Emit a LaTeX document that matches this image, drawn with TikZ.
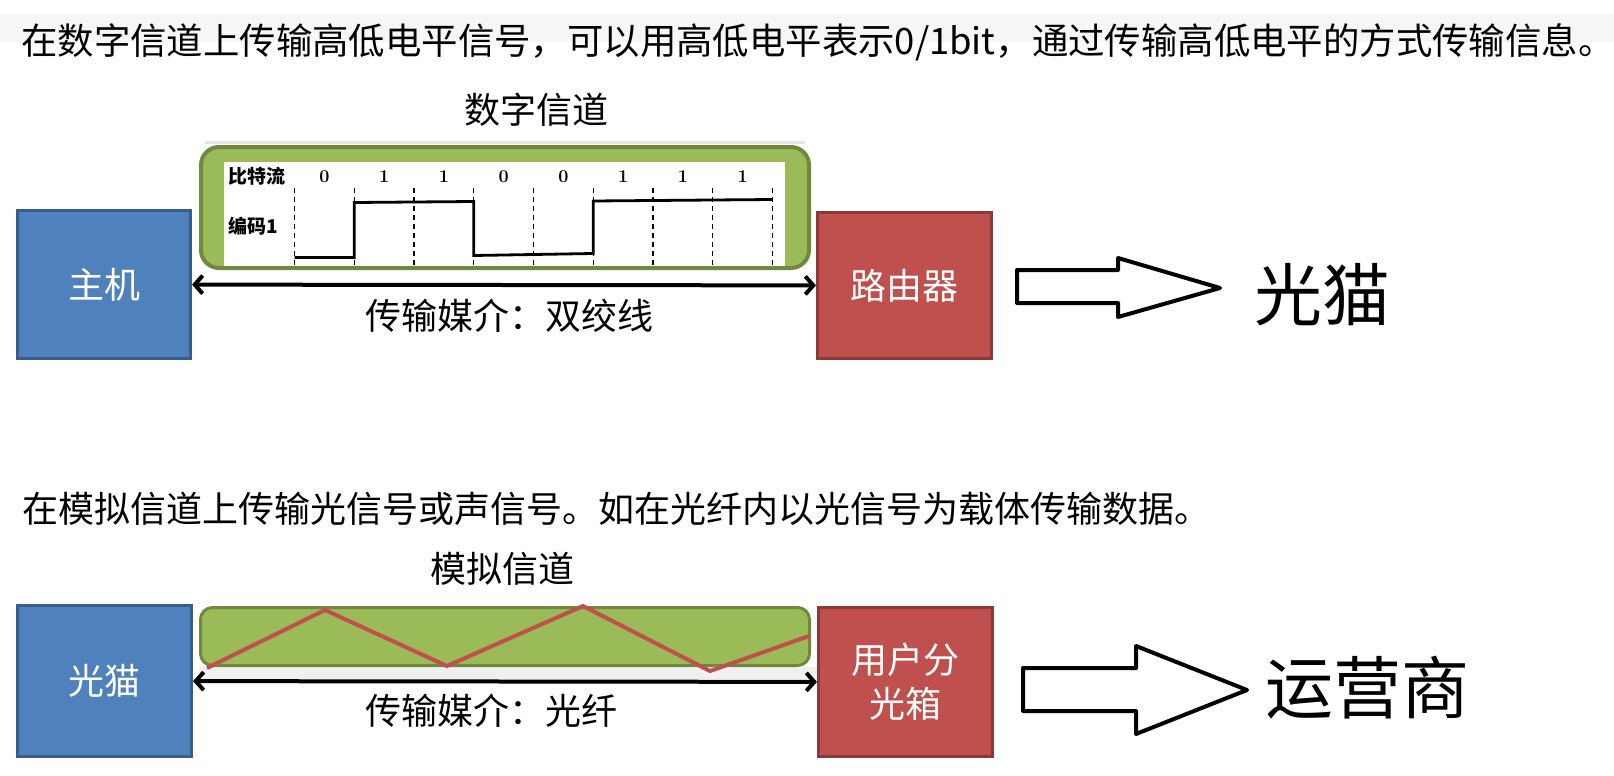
\documentclass[tikz,border=0pt]{standalone}
\usepackage{fontspec}
\newfontfamily\cjk{Noto Sans CJK SC}
\usetikzlibrary{arrows.meta}
\definecolor{boxblue}{HTML}{4F81BD}
\definecolor{boxblueline}{HTML}{385D8A}
\definecolor{boxred}{HTML}{C0504D}
\definecolor{boxredline}{HTML}{8C3836}
\definecolor{chgreen}{HTML}{9BBB59}
\definecolor{chgreenline}{HTML}{71893F}
\definecolor{zig}{HTML}{C0504D}
\begin{document}
\begin{tikzpicture}[x=1pt,y=-1pt,
  txt/.style={font=\cjk\fontsize{36}{40}\selectfont, inner sep=0pt, anchor=west},
  ctxt/.style={font=\cjk\fontsize{36}{40}\selectfont, inner sep=0pt},
  bigtxt/.style={font=\cjk\fontsize{68}{72}\selectfont, inner sep=0pt},
  devbox/.style={line width=3pt, inner sep=0pt, text=white, font=\cjk\fontsize{36}{44}\selectfont, align=center},
  bluebox/.style={devbox, fill=boxblue, draw=boxblueline},
  redbox/.style={devbox, fill=boxred, draw=boxredline},
  linkarrow/.style={line width=4pt, {Straight Barb[length=8pt,width=18pt]}-{Straight Barb[length=8pt,width=18pt]}},
  hollow/.style={draw=black, line width=4pt, fill=white, line join=round},
  dashline/.style={dash pattern=on 5pt off 4pt, line width=1.4pt},
  wave/.style={line width=2.8pt},
  smalllbl/.style={font=\cjk\bfseries\fontsize{19}{22}\selectfont, inner sep=0pt, anchor=west},
  bitlbl/.style={font=\bfseries\fontsize{18}{20}\selectfont, inner sep=0pt}
]
\useasboundingbox (0,0) rectangle (1614,776);
\fill[white] (0,0) rectangle (1614,776);
\fill[gray!7] (0,14) rectangle (1614,42);

% ---------- top section ----------
\node[txt, font=\cjk\fontsize{36.4}{40}\selectfont] (t1) at (21,42) {在数字信道上传输高低电平信号，可以用高低电平表示0/1bit，通过传输高低电平的方式传输信息。};
\node[ctxt] (dch) at (536,110) {数字信道};

\fill[gray!20] (205,141) rectangle (805,144);
\fill[chgreen, rounded corners=18pt] (201,147) rectangle (809,268);
\fill[white] (224,162) rectangle (785,266);
\foreach \k in {0,...,8}{
  \draw[dashline] ({294.5+59.75*\k},188) -- ({294.5+59.75*\k},266);
}
\node[smalllbl] (bs) at (228,176) {比特流};
\node[smalllbl] (enc) at (228,226) {编码1};
\foreach \b [count=\i from 0] in {0,1,1,0,0,1,1,1}{
  \node[bitlbl] (bit\i) at ({324.4+59.75*\i},177) {\b};
}
\draw[wave] (294.5,257.5) -- (354.25,257.5) -- (354.25,202.5) -- (473.75,201.5)
  -- (473.75,255.5) -- (593.25,253.5) -- (593.25,201) -- (772.5,199.5);
\draw[chgreenline, line width=4pt, rounded corners=18pt] (201,147) rectangle (809,268);

\node[bluebox, minimum width=173pt, minimum height=148pt] (host) at (104,284.5) {主机};
\node[redbox, minimum width=174pt, minimum height=146pt] (router) at (904.5,285.5) {路由器};
\draw[linkarrow] (host) -- (router);
\node[txt] (m1) at (365,316) {传输媒介：双绞线};

\draw[hollow] (1017,270) -- (1118,270) -- (1118,258) -- (1220,288) -- (1118,317) -- (1118,303) -- (1017,303) -- cycle;
\node[bigtxt] (gm) at (1322,295) {光猫};

% ---------- bottom section ----------
\node[txt] (t2) at (22,509) {在模拟信道上传输光信号或声信号。如在光纤内以光信号为载体传输数据。};
\node[ctxt] (ach) at (502,569) {模拟信道};

\fill[gray!12] (199,667) rectangle (817,679);
\draw[chgreenline, fill=chgreen, line width=3pt, rounded corners=12pt] (200.5,607.5) rectangle (809.5,665.5);
\draw[zig, line width=4pt] (207,668) -- (325,610) -- (447,666) -- (583,606) -- (710,671) -- (809,636);

\node[bluebox, minimum width=174pt, minimum height=151pt] (modem) at (104.5,681) {光猫};
\node[redbox, minimum width=174pt, minimum height=149pt] (splitter) at (905.5,682) {用户分\\光箱};
\draw[linkarrow] (modem) -- (splitter);
\node[txt] (m2) at (365,711) {传输媒介：光纤};

\draw[hollow] (1023,668) -- (1136,668) -- (1136,646) -- (1247,690) -- (1136,734) -- (1136,711) -- (1023,711) -- cycle;
\node[bigtxt] (isp) at (1367.5,688) {运营商};
\end{tikzpicture}
\end{document}
